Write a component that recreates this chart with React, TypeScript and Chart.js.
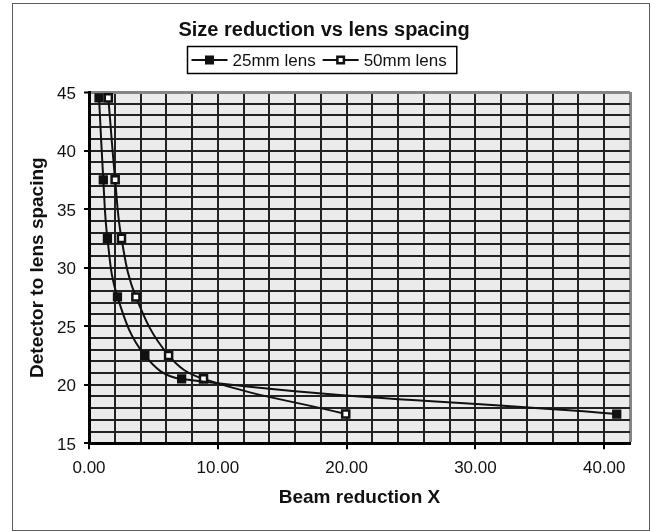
import { useEffect, useRef } from "react";
import { Chart, registerables } from "chart.js";

Chart.register(...registerables);

const seriesNames = ["25mm lens", "50mm lens"];
const spacing = [44.5, 37.5, 32.5, 27.5, 22.5, 20.5, 17.5];
const reduction25 = [0.78, 1.11, 1.43, 2.21, 4.34, 7.19, 40.97];
const reduction50 = [1.5, 2.03, 2.52, 3.64, 6.18, 8.89, 19.93];
const xLabelValues = [0, 10, 20, 30, 40];
const yLabelValues = [15, 20, 25, 30, 35, 40, 45];

const FONT = "'Liberation Sans', Arial, Helvetica, sans-serif";

export default function App() {
  const ref = useRef<HTMLCanvasElement | null>(null);

  useEffect(() => {
    document.body.style.margin = "0";
    const canvas = ref.current;
    if (!canvas) return;

    const plotBg = {
      id: "plotBg",
      beforeDraw(chart: any) {
        const { ctx, chartArea: a } = chart;
        ctx.save();
        ctx.fillStyle = "#ffffff";
        ctx.fillRect(0, 0, chart.width, chart.height);
        ctx.fillStyle = "#ebebeb";
        ctx.fillRect(a.left, a.top, a.right - a.left, a.bottom - a.top);
        ctx.restore();
      },
    };

    const frame = {
      id: "frame",
      afterDraw(chart: any) {
        const ctx = chart.ctx;
        ctx.save();
        ctx.strokeStyle = "#5c5c5c";
        ctx.lineWidth = 1;
        ctx.strokeRect(12.5, 3.5, chart.width - 14, chart.height - 4);
        ctx.restore();
      },
    };

    const legendBox = {
      id: "legendBox",
      afterDraw(chart: any) {
        const c = chart.ctx;
        const ds = chart.data.datasets;
        c.save();
        c.font = `17px ${FONT}`;
        const symW = 36;
        const gapT = 5;
        const gapItem = 7;
        const padL = 4;
        const padR = 10;
        const widths = seriesNames.map((n) => c.measureText(n).width);
        const total =
          padL + symW + gapT + widths[0] + gapItem + symW + gapT + widths[1] + padR;
        const cx = (18 + chart.width - 21) / 2 - 2;
        const top = 46.5;
        const h = 27;
        const x0 = Math.round(cx - total / 2) + 0.5;
        c.strokeStyle = "#000";
        c.lineWidth = 1.5;
        c.strokeRect(x0, top, total, h);
        let x = x0 + padL;
        const yc = top + h / 2;
        seriesNames.forEach((name, i) => {
          c.beginPath();
          c.moveTo(x, yc);
          c.lineTo(x + symW, yc);
          c.lineWidth = 2;
          c.strokeStyle = ds[i].borderColor;
          c.stroke();
          const m = 9;
          const mx = x + symW / 2 - m / 2;
          const my = yc - m / 2;
          c.fillStyle = ds[i].pointBorderColor;
          c.fillRect(mx, my, m, m);
          if (ds[i].pointBackgroundColor !== ds[i].pointBorderColor) {
            c.fillStyle = ds[i].pointBackgroundColor;
            c.fillRect(mx + 2.5, my + 2.5, m - 5, m - 5);
          }
          x += symW + gapT;
          c.fillStyle = "#111";
          c.textBaseline = "middle";
          c.textAlign = "left";
          c.fillText(name, x, yc + 1);
          x += widths[i] + gapItem;
        });
        c.restore();
      },
    };

    const tickFont = { family: FONT, size: 17 };
    const titleFont = { family: FONT, size: 19, weight: "bold" as const };

    const chart = new Chart(canvas, {
      type: "scatter",
      data: {
        datasets: [
          {
            label: seriesNames[0],
            data: reduction25.map((x, i) => ({ x, y: spacing[i] })),
            showLine: true,
            borderColor: "#111",
            borderWidth: 2,
            tension: 0.4,
            pointStyle: "rect",
            pointRadius: 5.5,
            pointBackgroundColor: "#111",
            pointBorderColor: "#111",
            pointBorderWidth: 1.5,
          },
          {
            label: seriesNames[1],
            data: reduction50.map((x, i) => ({ x, y: spacing[i] })),
            showLine: true,
            borderColor: "#111",
            borderWidth: 2,
            tension: 0.4,
            pointStyle: "rect",
            pointRadius: 5,
            pointBackgroundColor: "#ffffff",
            pointBorderColor: "#111",
            pointBorderWidth: 2.5,
          },
        ],
      },
      options: {
        animation: false,
        responsive: true,
        maintainAspectRatio: false,
        events: [],
        layout: { padding: { left: 18, right: 21, top: 0, bottom: 0 } },
        plugins: {
          legend: { display: false },
          tooltip: { enabled: false },
          title: {
            display: true,
            text: "Size reduction vs lens spacing",
            color: "#111",
            font: { family: FONT, size: 20, weight: "bold" },
            padding: { top: 18, bottom: 50 },
          },
        },
        scales: {
          x: {
            type: "linear",
            min: 0,
            max: 42,
            afterFit: (s: any) => {
              s.height = 87.7;
            },
            ticks: {
              stepSize: 2,
              autoSkip: false,
              maxRotation: 0,
              padding: 8.5,
              color: "#111",
              font: tickFont,
              callback: (v: any) =>
                xLabelValues.includes(Number(v)) ? Number(v).toFixed(2) : "",
            },
            grid: {
              color: (ctx: any) => (ctx.tick && ctx.tick.value === 42 ? "#858585" : "#222"),
              lineWidth: (ctx: any) => (ctx.tick && ctx.tick.value === 42 ? 3 : 2),
              tickLength: 6,
              tickWidth: 2,
              tickColor: (ctx: any) =>
                ctx.tick && xLabelValues.includes(ctx.tick.value) ? "#000" : "rgba(0,0,0,0)",
            },
            border: { color: "#000", width: 3 },
            title: {
              display: true,
              text: "Beam reduction X",
              color: "#111",
              font: titleFont,
              padding: { top: 0, bottom: 21.6 },
            },
          },
          y: {
            type: "linear",
            min: 15,
            max: 45,
            afterFit: (s: any) => {
              s.width = 71;
            },
            ticks: {
              stepSize: 1,
              autoSkip: false,
              padding: 8,
              labelOffset: 2,
              color: "#111",
              font: tickFont,
              callback: (v: any) => (yLabelValues.includes(Number(v)) ? String(v) : ""),
            },
            grid: {
              color: (ctx: any) => (ctx.tick && ctx.tick.value === 45 ? "#858585" : "#222"),
              lineWidth: (ctx: any) => (ctx.tick && ctx.tick.value === 45 ? 3 : 2),
              tickLength: 5,
              tickWidth: 2,
              tickColor: (ctx: any) =>
                ctx.tick && yLabelValues.includes(ctx.tick.value) ? "#000" : "rgba(0,0,0,0)",
            },
            border: { color: "#000", width: 3 },
            title: {
              display: true,
              text: "Detector to lens spacing",
              color: "#111",
              font: titleFont,
              padding: { top: 8.6, bottom: 0 },
            },
          },
        },
      },
      plugins: [plotBg, frame, legendBox],
    });

    return () => {
      chart.destroy();
    };
  }, []);

  return (
    <div style={{ width: 651, height: 531, position: "relative" }}>
      <canvas ref={ref} />
    </div>
  );
}
